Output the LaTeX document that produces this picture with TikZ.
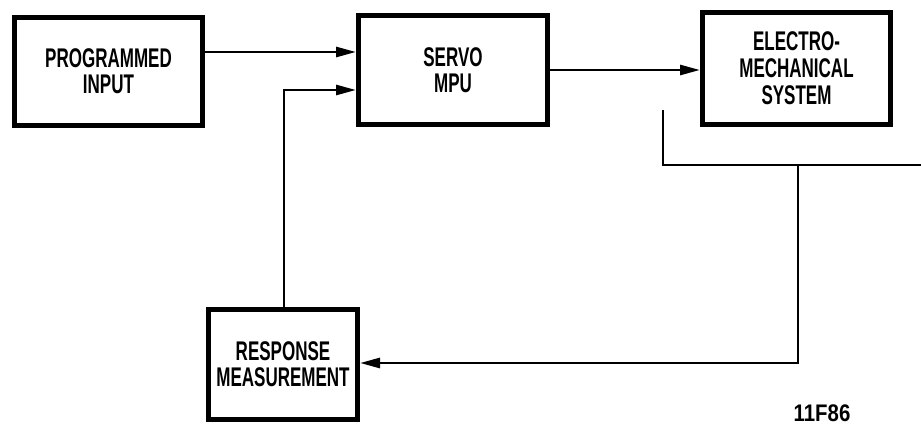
\documentclass[tikz,border=0pt]{standalone}
\usepackage{fontspec}
\setmainfont{Liberation Sans}[FakeStretch=0.63]
\newfontfamily\labfont{Liberation Sans}[FakeStretch=0.85]
\usetikzlibrary{arrows.meta}
\begin{document}
\begin{tikzpicture}[x=1pt,y=-1pt,
  blk/.style={draw=black,line width=5pt,fill=white,inner sep=0pt,
    align=center,font=\fontsize{27}{26}\selectfont\bfseries},
  conn/.style={line width=2.8pt,line cap=rect},
  arr/.style={conn,-{Triangle[length=20pt,width=10pt]}}]
\useasboundingbox[fill=white] (0,0) rectangle (921,425);
\node[blk,minimum width=188pt,minimum height=108pt] (prog) at (108.5,71.5) {PROGRAMMED\\INPUT};
\node[blk,minimum width=189pt,minimum height=109pt] (servo) at (453,70) {SERVO\\MPU};
\node[blk,minimum width=188pt,minimum height=112pt,font=\fontsize{27}{27}\selectfont\bfseries] (ems) at (796.5,68.5) {ELECTRO-\\MECHANICAL\\SYSTEM};
\node[blk,minimum width=149pt,minimum height=110pt] (resp) at (283,364.5) {RESPONSE\\MEASUREMENT};
\node[font=\labfont\fontsize{24}{24}\selectfont\bfseries,inner sep=0pt] (fig) at (822,413) {11F86};
\coordinate (tapL) at (663,111);
\coordinate (tapR) at (921,165);
\coordinate (drop) at (798,165);
\draw[arr] (prog.east |- 0,52) -- (servo.west |- 0,52);
\draw[arr] (servo.east |- 0,70) -- (ems.west |- 0,70);
\draw[arr] (resp.north -| 284,0) -- (284,90) -- (servo.west |- 0,90);
\draw[conn] (tapL) -- (tapL |- tapR) -- (tapR);
\draw[arr] (drop) -- (drop |- 0,363) -- (resp.east |- 0,363);
\end{tikzpicture}
\end{document}
